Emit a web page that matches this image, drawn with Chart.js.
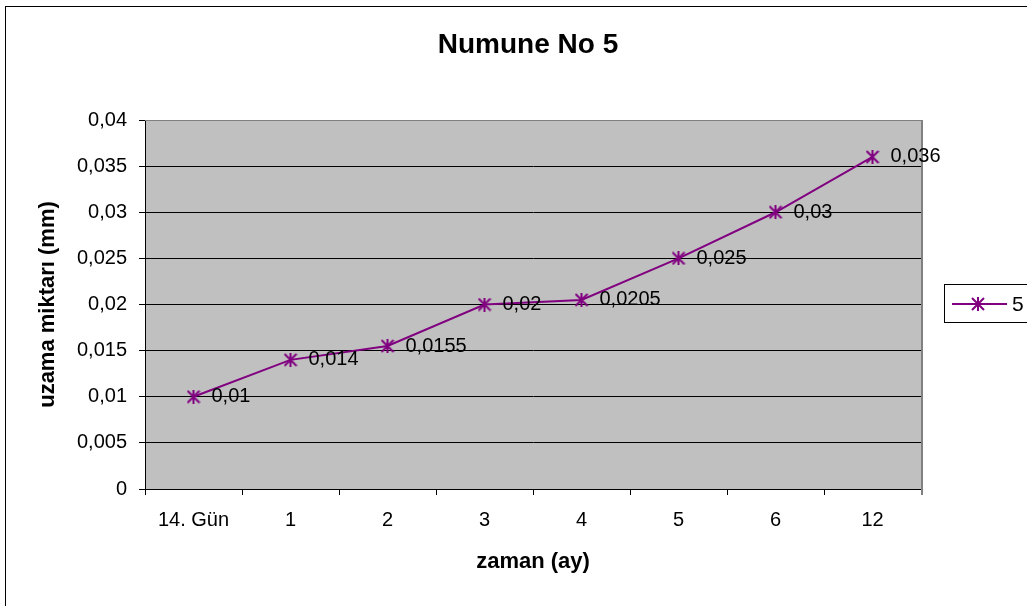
<!DOCTYPE html>
<html>
<head>
<meta charset="utf-8">
<title>Numune No 5</title>
<script src="https://cdn.jsdelivr.net/npm/chart.js@4/dist/chart.umd.min.js"></script>
<style>
    html, body { margin: 0; padding: 0; background: #fff; }
    canvas { display: block; }
</style>
</head>
<body>
<canvas id="chart" width="1027" height="606"></canvas>
<script>
// Data
const chartTitle = 'Numune No 5';
const seriesName = '5';
const categories = ['14. Gün', '1', '2', '3', '4', '5', '6', '12'];
const elongation = [0.01, 0.014, 0.0155, 0.02, 0.0205, 0.025, 0.03, 0.036];
const xAxisTitle = 'zaman (ay)';
const yAxisTitle = 'uzama miktarı (mm)';

const FONT = "'Liberation Sans', Arial, sans-serif";
const PURPLE = '#800080';

// comma decimal like the original spreadsheet
function fmt(v) {
    return String(Number(v.toFixed(4))).replace('.', ',');
}

/**
 * Asterisk marker (vertical bar + X)
 */
function makeStar(size, color) {
    const c = document.createElement('canvas');
    c.width = size;
    c.height = size;
    const g = c.getContext('2d');
    g.strokeStyle = color;
    g.lineWidth = 2;
    g.beginPath();
    g.moveTo(size / 2, 0);
    g.lineTo(size / 2, size);
    g.moveTo(1, 1);
    g.lineTo(size - 1, size - 1);
    g.moveTo(size - 1, 1);
    g.lineTo(1, size - 1);
    g.stroke();
    return c;
}
const starMarker = makeStar(14, PURPLE);

// Plot background, borders, labels, title, legend
const decorPlugin = {
    id: 'decor',
    beforeDraw(chart) {
        const { ctx, chartArea: a } = chart;
        ctx.save();
        ctx.fillStyle = '#fff';
        ctx.fillRect(0, 0, chart.width, chart.height);
        ctx.fillStyle = '#C0C0C0';
        ctx.fillRect(a.left, a.top, a.right - a.left, a.bottom - a.top);
        ctx.strokeStyle = '#000';
        ctx.lineWidth = 1;
        ctx.strokeRect(5.5, 6.5, chart.width + 10, chart.height + 10);
        ctx.restore();
    },
    beforeDatasetsDraw(chart) {
        const { ctx, chartArea: a } = chart;
        ctx.save();
        ctx.strokeStyle = '#808080';
        ctx.lineWidth = 1;
        ctx.beginPath();
        ctx.moveTo(a.left, a.top + 0.5);
        ctx.lineTo(a.right, a.top + 0.5);
        ctx.stroke();
        ctx.lineWidth = 2;
        ctx.beginPath();
        ctx.moveTo(a.right + 1, a.top);
        ctx.lineTo(a.right + 1, a.bottom + 6);
        ctx.stroke();
        ctx.restore();
    },
    afterDatasetsDraw(chart) {
        const { ctx, chartArea: a } = chart;
        const meta = chart.getDatasetMeta(0);
        ctx.save();
        ctx.fillStyle = '#000';
        ctx.font = '20px ' + FONT;
        ctx.textBaseline = 'middle';
        ctx.textAlign = 'left';
        meta.data.forEach((pt, i) => {
            ctx.fillText(fmt(chart.data.datasets[0].data[i]), pt.x + 18, pt.y);
        });

        // title
        ctx.font = 'bold 28px ' + FONT;
        ctx.textAlign = 'center';
        ctx.fillText(chartTitle, (a.left + a.right) / 2 - 5, 45);

        // legend
        ctx.strokeStyle = '#000';
        ctx.lineWidth = 1;
        ctx.strokeRect(944.5, 284.5, 120, 38);
        ctx.strokeStyle = PURPLE;
        ctx.lineWidth = 2;
        ctx.beginPath();
        ctx.moveTo(952, 304);
        ctx.lineTo(1007, 304);
        ctx.stroke();
        ctx.drawImage(starMarker, 978 - 7, 304 - 7);
        ctx.font = '21px ' + FONT;
        ctx.textAlign = 'left';
        ctx.fillStyle = '#000';
        ctx.fillText(seriesName, 1012, 305);
        ctx.restore();
    }
};

new Chart(document.getElementById('chart'), {
    type: 'line',
    data: {
        labels: categories,
        datasets: [{
            label: seriesName,
            data: elongation,
            borderColor: PURPLE,
            borderWidth: 2,
            tension: 0,
            fill: false,
            pointStyle: starMarker,
            pointRadius: 7,
            pointHoverRadius: 7
        }]
    },
    options: {
        responsive: false,
        animation: false,
        devicePixelRatio: 1,
        layout: {
            padding: { top: 120, right: 106, bottom: 0, left: 0 }
        },
        plugins: {
            legend: { display: false },
            title: { display: false },
            tooltip: { enabled: false }
        },
        scales: {
            x: {
                offset: true,
                afterFit: function (s) { s.height = 117; },
                grid: {
                    offset: true,
                    drawOnChartArea: false,
                    color: '#000',
                    tickLength: 6
                },
                border: { color: '#000', width: 1 },
                ticks: {
                    color: '#000',
                    padding: 13,
                    maxRotation: 0,
                    font: { family: FONT, size: 20 }
                },
                title: {
                    display: true,
                    text: xAxisTitle,
                    color: '#000',
                    padding: { top: 0, bottom: 31 },
                    font: { family: FONT, size: 22, weight: 'bold' }
                }
            },
            y: {
                min: 0,
                max: 0.04,
                afterFit: function (s) { s.width = 145; },
                grid: {
                    color: '#000',
                    tickLength: 6
                },
                border: { color: '#000', width: 1 },
                ticks: {
                    stepSize: 0.005,
                    color: '#000',
                    padding: 12,
                    font: { family: FONT, size: 20 },
                    callback: function (value) { return fmt(value); }
                },
                title: {
                    display: true,
                    text: yAxisTitle,
                    color: '#000',
                    padding: { top: 35, bottom: 0 },
                    font: { family: FONT, size: 22, weight: 'bold' }
                }
            }
        }
    },
    plugins: [decorPlugin]
});
</script>
</body>
</html>
